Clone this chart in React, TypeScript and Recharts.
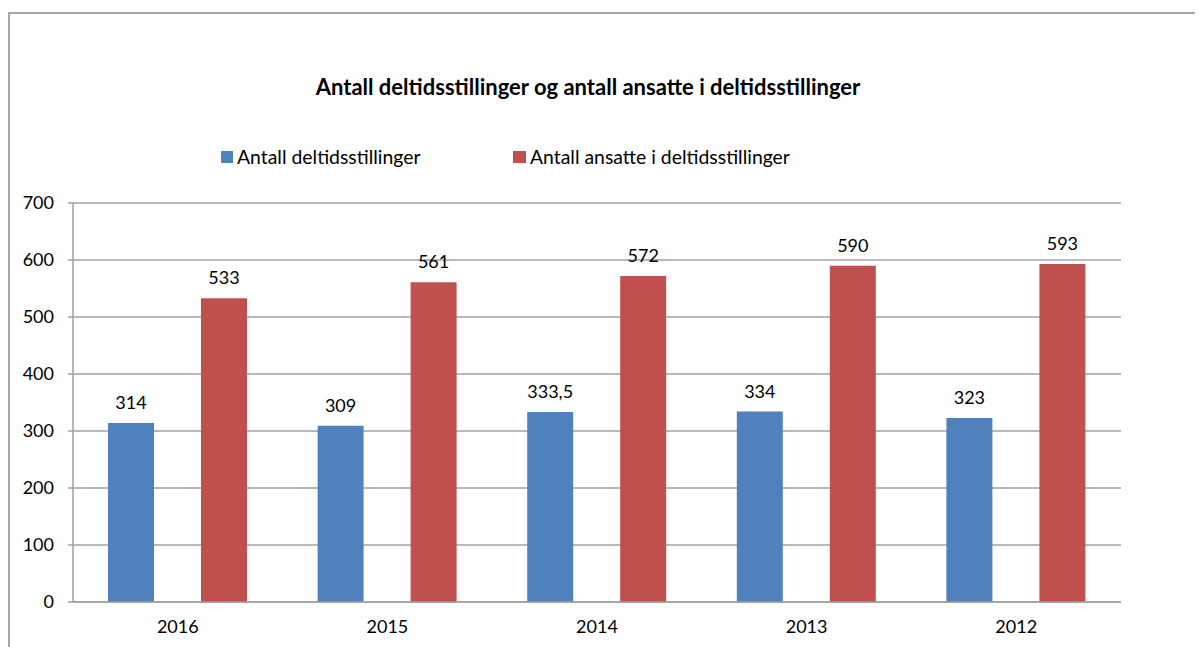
import { BarChart, Bar, XAxis, YAxis, CartesianGrid, LabelList } from 'recharts';

const years = ['2016', '2015', '2014', '2013', '2012'];
const stillinger = [314, 309, 333.5, 334, 323];
const ansatte = [533, 561, 572, 590, 593];
const yTicks = [0, 100, 200, 300, 400, 500, 600, 700];
const edgeTicks = [0, 1, 2, 3, 4, 5];

const BLUE = '#4F81BD';
const RED = '#C0504D';
const AXIS = '#A0A0A0';
const FONT = 'Lato, "Liberation Sans", sans-serif';

const data = years.map((year, i) => ({
  year,
  stillinger: stillinger[i],
  ansatte: ansatte[i],
}));

const fmt = (v: any) => String(v).replace('.', ',');

export default function App() {
  return (
    <div style={{ width: 1195, height: 639, overflow: 'hidden', position: 'relative', fontFamily: FONT }}>
      <div
        style={{
          position: 'absolute',
          left: 0,
          top: 4,
          width: 1300,
          height: 800,
          borderLeft: '2px solid #A6A6A6',
          borderTop: '2px solid #A6A6A6',
        }}
      />
      <div
        style={{
          position: 'absolute',
          left: 0,
          width: 1160,
          top: 66,
          lineHeight: '26px',
          textAlign: 'center',
          fontWeight: 'bold',
          fontSize: 22,
          color: '#000',
        }}
      >
        Antall deltidsstillinger og antall ansatte i deltidsstillinger
      </div>
      <div
        style={{
          position: 'absolute',
          top: 137,
          left: 213,
          display: 'flex',
          alignItems: 'center',
          fontSize: 19.4,
          lineHeight: '24px',
          color: '#000',
        }}
      >
        <span style={{ width: 12, height: 12, background: BLUE, display: 'inline-block', marginRight: 4 }} />
        <span style={{ width: 276 }}>Antall deltidsstillinger</span>
        <span style={{ width: 13, height: 12, background: RED, display: 'inline-block', marginRight: 4 }} />
        <span>Antall ansatte i deltidsstillinger</span>
      </div>
      <div style={{ position: 'absolute', left: 0, top: 0 }}>
        <BarChart
          width={1195}
          height={639}
          data={data}
          margin={{ top: 195, right: 82, bottom: 11, left: 8 }}
          barSize={46}
          barGap={47}
        >
          <CartesianGrid vertical={false} stroke={AXIS} strokeWidth={1.5} />
          <XAxis
            dataKey="year"
            tickLine={false}
            axisLine={{ stroke: AXIS, strokeWidth: 1.5 }}
            tick={{ fill: '#000', fontSize: 18, fontFamily: FONT }}
            tickMargin={12}
            height={34}
          />
          <XAxis
            xAxisId="edges"
            type="number"
            domain={[0, 5]}
            ticks={edgeTicks}
            tick={false}
            axisLine={false}
            tickLine={{ stroke: AXIS, strokeWidth: 1.5 }}
            tickSize={6}
            height={0}
          />
          <YAxis
            domain={[0, 700]}
            ticks={yTicks}
            width={57}
            tickSize={5}
            tickMargin={14}
            axisLine={{ stroke: AXIS, strokeWidth: 1.5 }}
            tickLine={{ stroke: AXIS, strokeWidth: 1.5 }}
            tick={{ fill: '#000', fontSize: 18, fontFamily: FONT }}
          />
          <Bar dataKey="stillinger" fill={BLUE} isAnimationActive={false}>
            <LabelList dataKey="stillinger" position="top" offset={14} formatter={fmt} style={{ fill: '#000', fontSize: 18, fontFamily: FONT }} />
          </Bar>
          <Bar dataKey="ansatte" fill={RED} isAnimationActive={false}>
            <LabelList dataKey="ansatte" position="top" offset={14} formatter={fmt} style={{ fill: '#000', fontSize: 18, fontFamily: FONT }} />
          </Bar>
        </BarChart>
      </div>
    </div>
  );
}
